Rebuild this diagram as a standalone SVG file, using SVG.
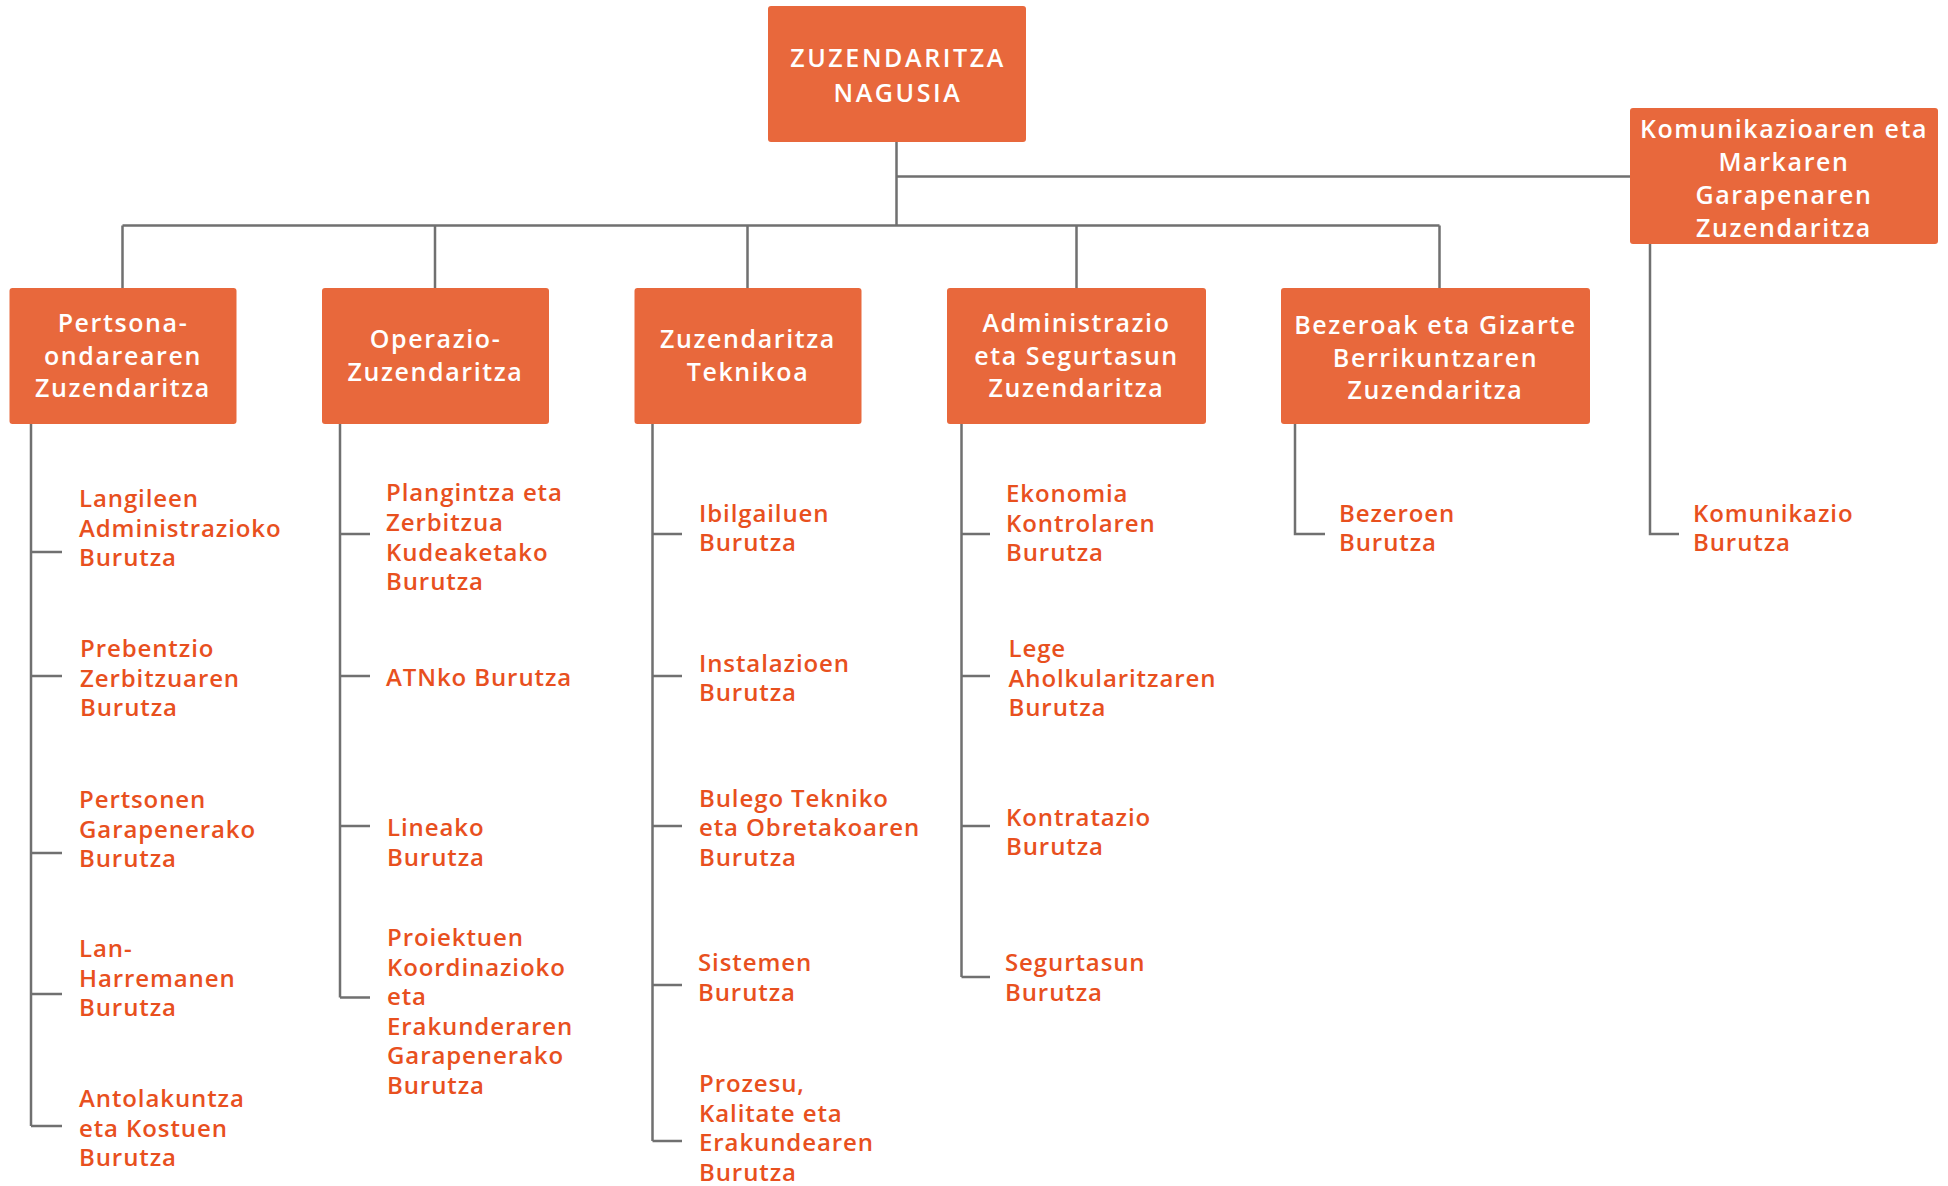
<svg xmlns="http://www.w3.org/2000/svg" width="1948" height="1186" viewBox="0 0 1948 1186">
<style>
.box{fill:#E8683C;}
.bt{font-family:"Open Sans","Liberation Sans",sans-serif;font-size:25px;font-weight:600;fill:#ffffff;text-anchor:middle;letter-spacing:1.6px;}
.up{letter-spacing:2.6px;}
.st{font-family:"Open Sans","Liberation Sans",sans-serif;font-size:24px;font-weight:600;fill:#E8501E;letter-spacing:0.9px;}
.ln{fill:none;stroke:#707070;stroke-width:2.5;}
</style>
<rect width="1948" height="1186" fill="#ffffff"/>
<g id="connectors">
<path class="ln" d="M896.5 142V225.5M896.5 176.5H1630M122.5 225.5H1439.5M122.5 225.5V288M435 225.5V288M747.5 225.5V288M1076.5 225.5V288M1439.5 225.5V288"/>
<path class="ln" d="M31 424V1126M31 552H62M31 676H62M31 853H62M31 994H62M31 1126H62"/>
<path class="ln" d="M340 424V997.5M340 534H370M340 676H370M340 826H370M340 997.5H370"/>
<path class="ln" d="M652.5 424V1141M652.5 534H682M652.5 676H682M652.5 826H682M652.5 985H682M652.5 1141H682"/>
<path class="ln" d="M961.5 424V977M961.5 534H990M961.5 676H990M961.5 826H990M961.5 977H990"/>
<path class="ln" d="M1295 424V534H1325"/>
<path class="ln" d="M1650 244V534H1679"/>
</g>
<g id="n-top"><rect class="box" x="768" y="6" width="258" height="136" rx="3"/><text class="bt up"><tspan x="898" y="67">ZUZENDARITZA</tspan><tspan x="898" y="102">NAGUSIA</tspan></text></g>
<g id="n-kom"><rect class="box" x="1630" y="108" width="308" height="136" rx="3"/><text class="bt"><tspan x="1784" y="138">Komunikazioaren eta</tspan><tspan x="1784" y="171">Markaren</tspan><tspan x="1784" y="204">Garapenaren</tspan><tspan x="1784" y="237">Zuzendaritza</tspan></text></g>
<g id="n-pertsona"><rect class="box" x="9.5" y="288" width="227" height="136" rx="3"/><text class="bt"><tspan x="123" y="332">Pertsona-</tspan><tspan x="123" y="365">ondarearen</tspan><tspan x="123" y="397">Zuzendaritza</tspan></text></g>
<g id="n-operazio"><rect class="box" x="322" y="288" width="227" height="136" rx="3"/><text class="bt"><tspan x="435.5" y="348">Operazio-</tspan><tspan x="435.5" y="381">Zuzendaritza</tspan></text></g>
<g id="n-teknikoa"><rect class="box" x="634.5" y="288" width="227" height="136" rx="3"/><text class="bt"><tspan x="748" y="348">Zuzendaritza</tspan><tspan x="748" y="381">Teknikoa</tspan></text></g>
<g id="n-admin"><rect class="box" x="947" y="288" width="259" height="136" rx="3"/><text class="bt"><tspan x="1076.5" y="332">Administrazio</tspan><tspan x="1076.5" y="365">eta Segurtasun</tspan><tspan x="1076.5" y="397">Zuzendaritza</tspan></text></g>
<g id="n-bezeroak"><rect class="box" x="1281" y="288" width="309" height="136" rx="3"/><text class="bt"><tspan x="1435.5" y="334">Bezeroak eta Gizarte</tspan><tspan x="1435.5" y="367">Berrikuntzaren</tspan><tspan x="1435.5" y="399">Zuzendaritza</tspan></text></g>
<g id="c1-1"><text class="st"><tspan x="79" y="507">Langileen</tspan><tspan x="79" y="536.5">Administrazioko</tspan><tspan x="79" y="566">Burutza</tspan></text></g>
<g id="c1-2"><text class="st"><tspan x="80" y="657">Prebentzio</tspan><tspan x="80" y="686.5">Zerbitzuaren</tspan><tspan x="80" y="716">Burutza</tspan></text></g>
<g id="c1-3"><text class="st"><tspan x="79" y="808">Pertsonen</tspan><tspan x="79" y="837.5">Garapenerako</tspan><tspan x="79" y="867">Burutza</tspan></text></g>
<g id="c1-4"><text class="st"><tspan x="79" y="957">Lan-</tspan><tspan x="79" y="986.5">Harremanen</tspan><tspan x="79" y="1016">Burutza</tspan></text></g>
<g id="c1-5"><text class="st"><tspan x="79" y="1107">Antolakuntza</tspan><tspan x="79" y="1136.5">eta Kostuen</tspan><tspan x="79" y="1166">Burutza</tspan></text></g>
<g id="c2-1"><text class="st"><tspan x="386" y="501">Plangintza eta</tspan><tspan x="386" y="531">Zerbitzua</tspan><tspan x="386" y="560.5">Kudeaketako</tspan><tspan x="386" y="590">Burutza</tspan></text></g>
<g id="c2-2"><text class="st"><tspan x="386" y="685.5">ATNko Burutza</tspan></text></g>
<g id="c2-3"><text class="st"><tspan x="387" y="836">Lineako</tspan><tspan x="387" y="865.5">Burutza</tspan></text></g>
<g id="c2-4"><text class="st"><tspan x="387" y="946">Proiektuen</tspan><tspan x="387" y="975.5">Koordinazioko</tspan><tspan x="387" y="1005">eta</tspan><tspan x="387" y="1034.5">Erakunderaren</tspan><tspan x="387" y="1064">Garapenerako</tspan><tspan x="387" y="1093.5">Burutza</tspan></text></g>
<g id="c3-1"><text class="st"><tspan x="699" y="521.5">Ibilgailuen</tspan><tspan x="699" y="551">Burutza</tspan></text></g>
<g id="c3-2"><text class="st"><tspan x="699" y="671.5">Instalazioen</tspan><tspan x="699" y="701">Burutza</tspan></text></g>
<g id="c3-3"><text class="st"><tspan x="699" y="806.5">Bulego Tekniko</tspan><tspan x="699" y="836">eta Obretakoaren</tspan><tspan x="699" y="865.5">Burutza</tspan></text></g>
<g id="c3-4"><text class="st"><tspan x="698" y="971">Sistemen</tspan><tspan x="698" y="1000.5">Burutza</tspan></text></g>
<g id="c3-5"><text class="st"><tspan x="699" y="1092">Prozesu,</tspan><tspan x="699" y="1121.5">Kalitate eta</tspan><tspan x="699" y="1151">Erakundearen</tspan><tspan x="699" y="1180.5">Burutza</tspan></text></g>
<g id="c4-1"><text class="st"><tspan x="1006" y="502">Ekonomia</tspan><tspan x="1006" y="531.5">Kontrolaren</tspan><tspan x="1006" y="561">Burutza</tspan></text></g>
<g id="c4-2"><text class="st"><tspan x="1008.5" y="657">Lege</tspan><tspan x="1008.5" y="686.5">Aholkularitzaren</tspan><tspan x="1008.5" y="716">Burutza</tspan></text></g>
<g id="c4-3"><text class="st"><tspan x="1006" y="825.5">Kontratazio</tspan><tspan x="1006" y="855">Burutza</tspan></text></g>
<g id="c4-4"><text class="st"><tspan x="1005" y="971">Segurtasun</tspan><tspan x="1005" y="1000.5">Burutza</tspan></text></g>
<g id="c5-1"><text class="st"><tspan x="1339" y="521.5">Bezeroen</tspan><tspan x="1339" y="551">Burutza</tspan></text></g>
<g id="c6-1"><text class="st"><tspan x="1693" y="521.5">Komunikazio</tspan><tspan x="1693" y="551">Burutza</tspan></text></g>
</svg>
